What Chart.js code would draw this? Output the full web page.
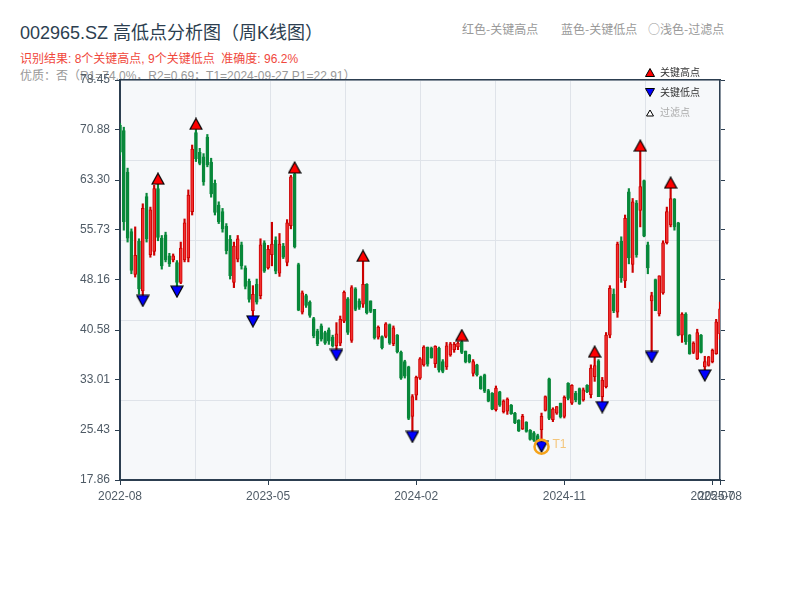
<!DOCTYPE html>
<html>
<head>
<meta charset="utf-8">
<title>002965.SZ 高低点分析图</title>
<script src="https://cdn.jsdelivr.net/npm/chart.js@4.4.0/dist/chart.umd.min.js"></script>
<style>
    body { margin: 0; background: #fff; font-family: "Liberation Sans", "Noto Sans CJK SC", sans-serif; }
    #wrap { position: relative; width: 800px; height: 600px; overflow: hidden; }
    #kChart { position: absolute; left: 0; top: 0; }
    .txt { position: absolute; white-space: nowrap; }
    #title { left: 20px; top: 23px; font-size: 18px; line-height: 20px; color: #2c3e50; }
    #result { left: 20px; top: 52px; font-size: 12px; line-height: 14px; color: #f0483c; }
    #quality { left: 20px; top: 69px; font-size: 12px; line-height: 14px; color: #999; }
    .hint { top: 22px; font-size: 12px; line-height: 14px; color: #999; font-family: "Noto Sans CJK SC", sans-serif; }
    .leg { left: 645px; font-size: 10px; line-height: 12px; color: #333; font-family: "Noto Sans CJK SC", sans-serif; }
    .leg svg { vertical-align: -1px; margin-right: 5px; }
</style>
</head>
<body>
<div id="wrap">
    <div class="txt" id="title">002965.SZ 高低点分析图（周K线图）</div>
    <div class="txt" id="result">识别结果: 8个关键高点, 9个关键低点&nbsp;&nbsp;准确度: 96.2%</div>
    <div class="txt" id="quality">优质：否（R1=74.0%，R2=0.69；T1=2024-09-27 P1=22.91）</div>
    <div class="txt hint" style="left:462px">红色-关键高点</div>
    <div class="txt hint" style="left:561px">蓝色-关键低点</div>
    <div class="txt hint" style="left:648px">○浅色-过滤点</div>
    <canvas id="kChart" width="800" height="600"></canvas>
    <div class="txt leg" style="top:66px"><svg width="10" height="9"><polygon points="5,0.5 9.5,8.5 0.5,8.5" fill="red" stroke="#000" stroke-width="1"/></svg>关键高点</div>
    <div class="txt leg" style="top:86px"><svg width="10" height="9"><polygon points="0.5,0.5 9.5,0.5 5,8.5" fill="blue" stroke="#000" stroke-width="1"/></svg>关键低点</div>
    <div class="txt leg" style="top:106px;color:#aaa"><svg width="10" height="9"><polygon points="5,2 8.5,8 1.5,8" fill="#fff" stroke="#000" stroke-width="1"/></svg>过滤点</div>
</div>

<script>
// weekly candles, index 0 = first week of 2022-08
const opens = [
    71.6, 70.8, 64.5, 55.5, 49.0, 54.0, 46.5, 60.8, 52.0, 52.5,
    62.0, 54.5, 55.0, 51.8, 51.2, 50.8, 47.8, 51.2, 51.5, 58.5,
    70.5, 67.5, 66.8, 69.8, 66.0, 62.8, 59.5, 58.5, 56.3, 54.3,
    47.8, 51.3, 53.5, 50.0, 48.0, 43.5, 47.5, 45.8, 53.8, 50.0,
    52.0, 54.2, 49.2, 53.3, 50.8, 56.4, 64.2, 50.5, 43.3, 45.8,
    44.8, 42.3, 40.4, 41.2, 40.2, 40.6, 39.5, 38.2, 38.6, 41.9,
    45.3, 39.0, 46.8, 45.0, 44.5, 47.5, 45.0, 43.7, 39.5, 39.6,
    39.6, 41.4, 38.5, 39.8, 37.2, 35.8, 35.0, 27.5, 30.7, 33.3,
    35.3, 38.0, 37.8, 35.5, 37.8, 35.8, 35.0, 36.8, 37.6, 38.0,
    38.8, 37.4, 36.8, 34.0, 35.3, 33.5, 33.8, 31.4, 31.0, 28.5,
    31.2, 28.2, 28.3, 29.2, 28.0, 26.9, 25.6, 26.6, 25.4, 25.0,
    24.6, 25.5, 28.4, 33.2, 27.0, 28.0, 29.5, 27.5, 32.5, 29.5,
    31.0, 31.7, 30.0, 32.2, 30.8, 33.5, 35.9, 30.5, 32.0, 39.8,
    46.0, 43.3, 54.0, 48.0, 61.5, 50.5, 59.8, 58.7, 63.2, 53.5,
    45.0, 48.2, 43.0, 46.2, 53.8, 56.5, 60.4, 56.8, 39.8, 43.0,
    39.8, 37.2, 36.2, 39.8, 35.0, 35.2, 35.8, 37.0, 40.0
];
const closes = [
    67.5, 57.0, 54.5, 49.6, 51.9, 46.8, 59.0, 54.4, 58.8, 62.0,
    54.6, 50.3, 51.2, 50.6, 51.8, 47.8, 53.0, 56.8, 61.0, 68.0,
    66.5, 65.8, 63.0, 65.6, 61.2, 58.4, 57.0, 55.9, 52.6, 48.8,
    53.3, 54.4, 50.3, 47.2, 45.2, 46.0, 44.8, 53.5, 49.5, 52.8,
    53.6, 49.5, 53.6, 51.6, 56.8, 63.8, 53.2, 43.6, 46.2, 44.3,
    42.8, 39.7, 38.5, 39.2, 38.6, 38.9, 38.2, 40.0, 42.2, 46.3,
    40.2, 47.0, 43.7, 44.0, 47.5, 43.2, 43.4, 39.4, 41.0, 37.9,
    41.5, 38.6, 40.9, 37.3, 33.3, 33.6, 27.2, 30.5, 33.4, 36.2,
    38.0, 35.4, 36.4, 38.1, 34.5, 34.3, 38.2, 38.5, 38.4, 38.6,
    37.2, 35.8, 35.8, 35.8, 33.8, 31.7, 31.3, 29.8, 28.6, 31.8,
    29.2, 29.8, 30.1, 27.9, 26.5, 25.3, 27.5, 25.2, 24.0, 23.9,
    23.5, 27.5, 30.5, 27.2, 28.6, 29.0, 27.4, 30.4, 30.2, 32.2,
    30.0, 29.4, 31.5, 31.2, 34.8, 35.2, 30.5, 33.0, 39.8, 46.9,
    43.5, 53.6, 48.5, 57.5, 51.5, 60.0, 52.0, 62.3, 54.8, 50.0,
    45.8, 43.5, 48.8, 53.8, 58.5, 60.5, 56.2, 39.8, 43.0, 38.8,
    37.0, 38.6, 40.2, 37.2, 35.8, 36.5, 37.5, 41.8, 43.8
];
const highs = [
    71.9, 71.3, 65.1, 55.9, 56.2, 54.4, 59.7, 61.3, 59.2, 62.5,
    63.5, 54.9, 55.4, 52.2, 52.1, 51.1, 53.9, 57.4, 61.8, 68.6,
    71.8, 68.1, 67.3, 70.2, 66.6, 63.3, 60.0, 59.0, 56.7, 54.9,
    53.9, 54.9, 53.9, 50.3, 48.3, 47.3, 48.3, 54.4, 54.1, 53.4,
    56.9, 54.7, 55.2, 53.7, 57.3, 64.0, 65.2, 50.7, 46.5, 46.0,
    45.0, 42.5, 40.7, 41.5, 40.4, 40.9, 39.8, 41.7, 42.7, 46.5,
    45.5, 47.3, 47.0, 45.3, 51.8, 47.6, 45.0, 43.7, 41.2, 39.7,
    41.7, 41.5, 41.2, 39.9, 37.4, 36.0, 35.1, 30.8, 33.6, 36.4,
    38.2, 38.0, 38.0, 38.2, 38.0, 36.1, 38.7, 38.7, 38.7, 38.8,
    39.8, 37.4, 36.9, 36.1, 35.4, 33.6, 33.9, 31.6, 31.1, 32.1,
    31.3, 30.0, 30.3, 29.3, 28.1, 27.0, 27.8, 26.7, 25.5, 25.2,
    24.8, 28.0, 30.6, 33.3, 28.8, 29.0, 29.5, 30.6, 32.6, 32.3,
    31.3, 31.8, 31.8, 32.3, 35.3, 37.3, 36.1, 33.4, 40.2, 47.3,
    46.8, 53.9, 54.7, 58.0, 62.0, 60.5, 60.2, 68.5, 63.3, 53.9,
    46.3, 48.3, 48.8, 54.1, 59.2, 62.9, 60.5, 56.9, 43.2, 43.2,
    39.9, 38.8, 40.7, 39.9, 36.6, 36.6, 37.7, 42.2, 44.8
];
const lows = [
    67.1, 55.7, 53.9, 49.1, 48.6, 46.0, 45.0, 53.9, 51.6, 51.9,
    54.1, 49.8, 50.9, 50.2, 50.9, 46.4, 47.6, 50.9, 50.9, 58.0,
    66.1, 65.6, 62.5, 65.3, 60.7, 58.0, 56.7, 55.4, 52.1, 48.3,
    47.0, 50.9, 49.8, 46.8, 44.8, 41.9, 44.5, 45.3, 49.3, 49.8,
    50.3, 49.1, 48.7, 51.4, 50.3, 55.9, 53.0, 43.5, 43.0, 44.0,
    42.5, 39.4, 38.2, 38.9, 38.4, 38.4, 38.0, 36.8, 38.2, 41.7,
    39.9, 38.7, 43.5, 43.7, 44.0, 43.0, 43.2, 39.2, 39.2, 37.7,
    39.4, 38.4, 38.2, 37.1, 33.1, 33.3, 27.0, 24.4, 30.0, 33.1,
    35.1, 35.1, 36.3, 34.9, 34.2, 34.1, 34.6, 36.6, 37.2, 37.6,
    37.0, 35.6, 35.6, 33.6, 33.6, 31.6, 31.1, 29.7, 28.5, 28.3,
    29.0, 28.0, 27.8, 27.8, 26.4, 25.2, 25.5, 25.1, 23.9, 23.7,
    23.3, 22.91, 28.3, 27.0, 26.7, 27.8, 27.25, 27.25, 30.0, 29.3,
    29.7, 29.3, 29.8, 31.1, 30.3, 32.8, 30.5, 28.9, 31.8, 39.4,
    43.2, 42.5, 47.8, 47.0, 50.6, 49.3, 51.6, 56.2, 54.7, 49.1,
    36.5, 43.5, 42.7, 46.0, 53.6, 56.2, 55.7, 39.7, 38.7, 38.4,
    36.9, 37.0, 36.1, 37.1, 33.7, 35.1, 35.6, 36.9, 39.2
];

// key points (candle index)
const highIdx = [10, 20, 46, 64, 90, 125, 137, 145];
const lowIdx = [6, 15, 35, 57, 77, 111, 127, 140, 154];
const t1Idx = 111;
const t1Price = 22.91;

// axes
const yTicks = [17.86, 25.43, 33.01, 40.58, 48.16, 55.73, 63.30, 70.88, 78.45];
const xTickIdx = [0, 39, 78, 117, 156, 158];
const xTickLabels = ['2022-08', '2023-05', '2024-02', '2024-11', '2025-07', '2025-08'];

const UP_LINE = '#cc0000';
const UP_FILL = '#f23030';
const DOWN = '#08883a';
const AXIS = '#2c3e50';
const LABEL = '#4f5b66';
const FONT = '"Liberation Sans", "Noto Sans CJK SC", sans-serif';

function isUp(i) {
    return closes[i] >= opens[i];
}

// triangle marker images (centered on the point)
function makeTriangle(fill, down) {
    const w = 12, h = 11;
    const c = document.createElement('canvas');
    c.width = w + 2;
    c.height = h + 2;
    const g = c.getContext('2d');
    g.beginPath();
    if (down) {
        g.moveTo(1, 1); g.lineTo(w + 1, 1); g.lineTo(w / 2 + 1, h + 1);
    } else {
        g.moveTo(w / 2 + 1, 1); g.lineTo(w + 1, h + 1); g.lineTo(1, h + 1);
    }
    g.closePath();
    g.fillStyle = fill;
    g.fill();
    g.lineWidth = 1.2;
    g.strokeStyle = '#000';
    g.stroke();
    return c;
}

const plotBg = {
    id: 'plotBg',
    beforeDraw(chart) {
        const {ctx, chartArea: a} = chart;
        ctx.save();
        ctx.fillStyle = '#f6f8fa';
        ctx.fillRect(a.left, a.top, a.width, a.height);
        ctx.restore();
    }
};

// "T1" text next to the orange ring
const t1Label = {
    id: 't1Label',
    afterDatasetsDraw(chart) {
        const pt = chart.getDatasetMeta(0).data[0];
        if (!pt) return;
        const ctx = chart.ctx;
        ctx.save();
        ctx.font = '12px ' + FONT;
        ctx.fillStyle = 'rgba(243, 156, 18, 0.55)';
        ctx.textBaseline = 'middle';
        ctx.fillText('T1', pt.x + 11, pt.y - 2);
        ctx.restore();
    }
};

const fixedTicks = (values) => (scale) => {
    scale.ticks = values.map(v => ({value: v}));
};

const canvas = document.getElementById('kChart');

new Chart(canvas, {
    type: 'bar',
    data: {
        datasets: [
            {
                type: 'scatter',
                label: 'T1',
                data: [{x: t1Idx, y: t1Price}],
                pointStyle: 'circle',
                pointRadius: 7,
                pointBorderWidth: 2.5,
                pointBorderColor: '#f5a31a',
                pointBackgroundColor: 'rgba(0,0,0,0)',
                order: -1
            },
            {
                type: 'scatter',
                label: '关键高点',
                data: highIdx.map(i => ({x: i, y: highs[i]})),
                pointStyle: makeTriangle('#ff0000', false),
                pointRadius: 6,
                order: 0
            },
            {
                type: 'scatter',
                label: '关键低点',
                data: lowIdx.map(i => ({x: i, y: lows[i]})),
                pointStyle: makeTriangle('#0000ff', true),
                pointRadius: 6,
                order: 0
            },
            {
                label: 'body',
                data: opens.map((o, i) => ({x: i, y: [o, closes[i]]})),
                backgroundColor: ctx => isUp(ctx.dataIndex) ? UP_FILL : DOWN,
                borderColor: ctx => isUp(ctx.dataIndex) ? UP_LINE : DOWN,
                borderWidth: 1,
                borderSkipped: false,
                barThickness: 3,
                grouped: false,
                order: 2
            },
            {
                label: 'wick',
                data: highs.map((h, i) => ({x: i, y: [lows[i], h]})),
                backgroundColor: ctx => isUp(ctx.dataIndex) ? UP_LINE : DOWN,
                borderWidth: 0,
                barThickness: 1.5,
                grouped: false,
                order: 3
            }
        ]
    },
    options: {
        responsive: false,
        animation: false,
        events: [],
        layout: { padding: 0 },
        plugins: {
            legend: { display: false },
            title: { display: false },
            tooltip: { enabled: false }
        },
        scales: {
            x: {
                type: 'linear',
                position: 'bottom',
                min: 0,
                max: 158,
                offset: false,
                afterBuildTicks: fixedTicks(xTickIdx),
                afterFit: s => { s.height = 120; },
                grid: { offset: false, drawOnChartArea: false, drawTicks: true, tickLength: 5, color: AXIS },
                border: { display: true, color: AXIS, width: 2 },
                ticks: {
                    autoSkip: false,
                    maxRotation: 0,
                    padding: 4,
                    color: LABEL,
                    font: { size: 12, family: FONT },
                    callback: v => xTickLabels[xTickIdx.indexOf(v)]
                }
            },
            xTop: {
                type: 'linear',
                position: 'top',
                min: 0,
                max: 158,
                offset: false,
                afterFit: s => { s.height = 80; },
                grid: { display: false, offset: false },
                border: { display: true, color: AXIS, width: 1.5 },
                ticks: { display: false }
            },
            y: {
                type: 'linear',
                position: 'left',
                min: 17.86,
                max: 78.45,
                afterBuildTicks: fixedTicks(yTicks),
                afterFit: s => { s.width = 120; },
                grid: { drawOnChartArea: false, drawTicks: true, tickLength: 5, color: AXIS },
                border: { display: true, color: AXIS, width: 2 },
                ticks: {
                    padding: 5,
                    color: LABEL,
                    font: { size: 12, family: FONT },
                    callback: v => v.toFixed(2)
                }
            },
            yRight: {
                type: 'linear',
                position: 'right',
                min: 17.86,
                max: 78.45,
                afterBuildTicks: fixedTicks(yTicks),
                afterFit: s => { s.width = 80; },
                grid: { drawOnChartArea: false, drawTicks: true, tickLength: 5, color: AXIS },
                border: { display: true, color: AXIS, width: 1.5 },
                ticks: { callback: () => '' }
            },
            // background grid: 8 x 5 cells
            gx: {
                type: 'linear',
                position: 'bottom',
                min: 0,
                max: 8,
                offset: false,
                afterFit: s => { s.height = 0; },
                grid: { color: '#dfe3e9', lineWidth: 1, drawTicks: false, offset: false },
                border: { display: false },
                ticks: { display: false, stepSize: 1 }
            },
            gy: {
                type: 'linear',
                position: 'left',
                min: 0,
                max: 5,
                afterFit: s => { s.width = 0; },
                grid: { color: '#dfe3e9', lineWidth: 1, drawTicks: false },
                border: { display: false },
                ticks: { display: false, stepSize: 1 }
            }
        }
    },
    plugins: [plotBg, t1Label]
});
</script>
</body>
</html>
